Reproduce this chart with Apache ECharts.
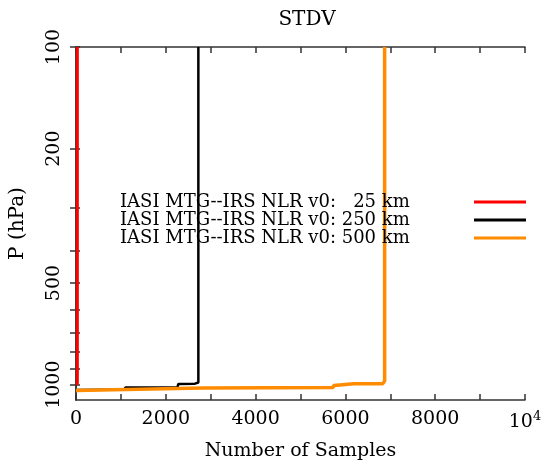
<!DOCTYPE html>
<html>
<head>
<meta charset="utf-8">
<script src="https://cdn.jsdelivr.net/npm/echarts@6/dist/echarts.min.js"></script>
<style>
  html, body { margin: 0; padding: 0; background: #fff; }
  #chart { width: 545px; height: 472px; }
</style>
</head>
<body>
<div id="chart"></div>
<script>
// legend names
const seriesNames = [
  'IASI MTG--IRS NLR v0:   25 km',
  'IASI MTG--IRS NLR v0: 250 km',
  'IASI MTG--IRS NLR v0: 500 km'
];

// samples vs pressure (hPa)
const red_p = [100, 990, 1002];
const red_n = [30, 30, 12];

const black_p = [100, 985, 993, 995, 1017, 1019, 1034, 1036];
const black_n = [2725, 2725, 2650, 2280, 2260, 1100, 1080, 0];

const orange_p = [100, 975, 993, 994, 1003, 1005, 1019, 1023, 1037, 1040];
const orange_n = [6874, 6874, 6830, 6190, 6180, 5740, 5730, 2800, 2790, 0];

const yLabels = [100, 200, 500, 1000];
const yTicks = [100, 200, 300, 400, 500, 600, 700, 800, 900, 1000];

const FONT = 'DejaVu Serif';
const pairs = (n, p) => n.map((v, i) => [v, p[i]]);

const chart = echarts.init(document.getElementById('chart'));

const axisLine = { show: true, lineStyle: { color: '#333', width: 1.5 } };

chart.setOption({
  animation: false,
  title: {
    text: 'STDV',
    left: 302,
    textAlign: 'center',
    top: 5,
    textStyle: { fontFamily: FONT, fontSize: 20, fontWeight: 'normal', color: '#000' }
  },
  grid: { left: 74, right: 20, top: 47, bottom: 72 },
  legend: {
    orient: 'vertical',
    left: 115,
    top: 188,
    align: 'right',
    icon: 'rect',
    itemWidth: 52,
    itemHeight: 3,
    itemGap: 0,
    selectedMode: false,
    formatter: name => '{t|' + name + '}',
    textStyle: {
      fontFamily: FONT, fontSize: 18, color: '#000',
      rich: { t: { fontFamily: FONT, fontSize: 18, color: '#000', width: 349, align: 'left', lineHeight: 18 } }
    },
    data: seriesNames
  },
  xAxis: [
    {
      type: 'value',
      min: 0,
      max: 10000,
      interval: 1000,
      name: 'Number of Samples',
      nameLocation: 'middle',
      nameGap: 42,
      nameTextStyle: { fontFamily: FONT, fontSize: 19, color: '#000' },
      axisLine: axisLine,
      axisTick: { inside: true, length: 6, lineStyle: { color: '#333', width: 1.5 } },
      splitLine: { show: false },
      axisLabel: {
        margin: 10,
        fontFamily: FONT,
        fontSize: 19,
        color: '#000',
        formatter: v => v % 2000 !== 0 ? '' : (v === 10000 ? '{m|10}{s|4}' : String(v)),
        rich: {
          m: { fontFamily: FONT, fontSize: 19, color: '#000' },
          s: { fontFamily: FONT, fontSize: 13, color: '#000', padding: [0, 0, 12, 0] }
        }
      }
    },
    {
      type: 'value',
      position: 'top',
      min: 0,
      max: 10000,
      interval: 1000,
      axisLine: axisLine,
      axisTick: { inside: true, length: 6, lineStyle: { color: '#333', width: 1.5 } },
      axisLabel: { show: false },
      splitLine: { show: false }
    }
  ],
  yAxis: [
    {
      type: 'log',
      logBase: 10,
      inverse: true,
      min: 100,
      max: 1110,
      name: 'P (hPa)',
      nameLocation: 'middle',
      nameGap: 48,
      nameTextStyle: { fontFamily: FONT, fontSize: 20, color: '#000' },
      axisLine: axisLine,
      axisTick: { inside: true, length: 4, customValues: yTicks, lineStyle: { color: '#333', width: 1.5 } },
      minorTick: { show: false },
      splitLine: { show: false },
      axisLabel: {
        rotate: 90,
        margin: 12,
        fontFamily: FONT,
        fontSize: 19,
        color: '#000',
        customValues: yLabels,
        formatter: v => String(Math.round(v))
      }
    },
    {
      type: 'log',
      logBase: 10,
      inverse: true,
      min: 100,
      max: 1110,
      position: 'right',
      axisLine: axisLine,
      axisTick: { inside: true, length: 6, customValues: yTicks, lineStyle: { color: '#333', width: 1.5 } },
      axisLabel: { show: false },
      splitLine: { show: false }
    }
  ],
  series: [
    {
      name: seriesNames[0],
      type: 'line',
      showSymbol: false,
      symbol: 'none',
      lineStyle: { color: '#ff0000', width: 3 },
      itemStyle: { color: '#ff0000' },
      data: pairs(red_n, red_p)
    },
    {
      name: seriesNames[1],
      type: 'line',
      showSymbol: false,
      symbol: 'none',
      lineStyle: { color: '#000000', width: 2.5 },
      itemStyle: { color: '#000000' },
      data: pairs(black_n, black_p)
    },
    {
      name: seriesNames[2],
      type: 'line',
      showSymbol: false,
      symbol: 'none',
      lineStyle: { color: '#ff8c00', width: 3.5 },
      itemStyle: { color: '#ff8c00' },
      data: pairs(orange_n, orange_p)
    }
  ]
});
</script>
</body>
</html>
